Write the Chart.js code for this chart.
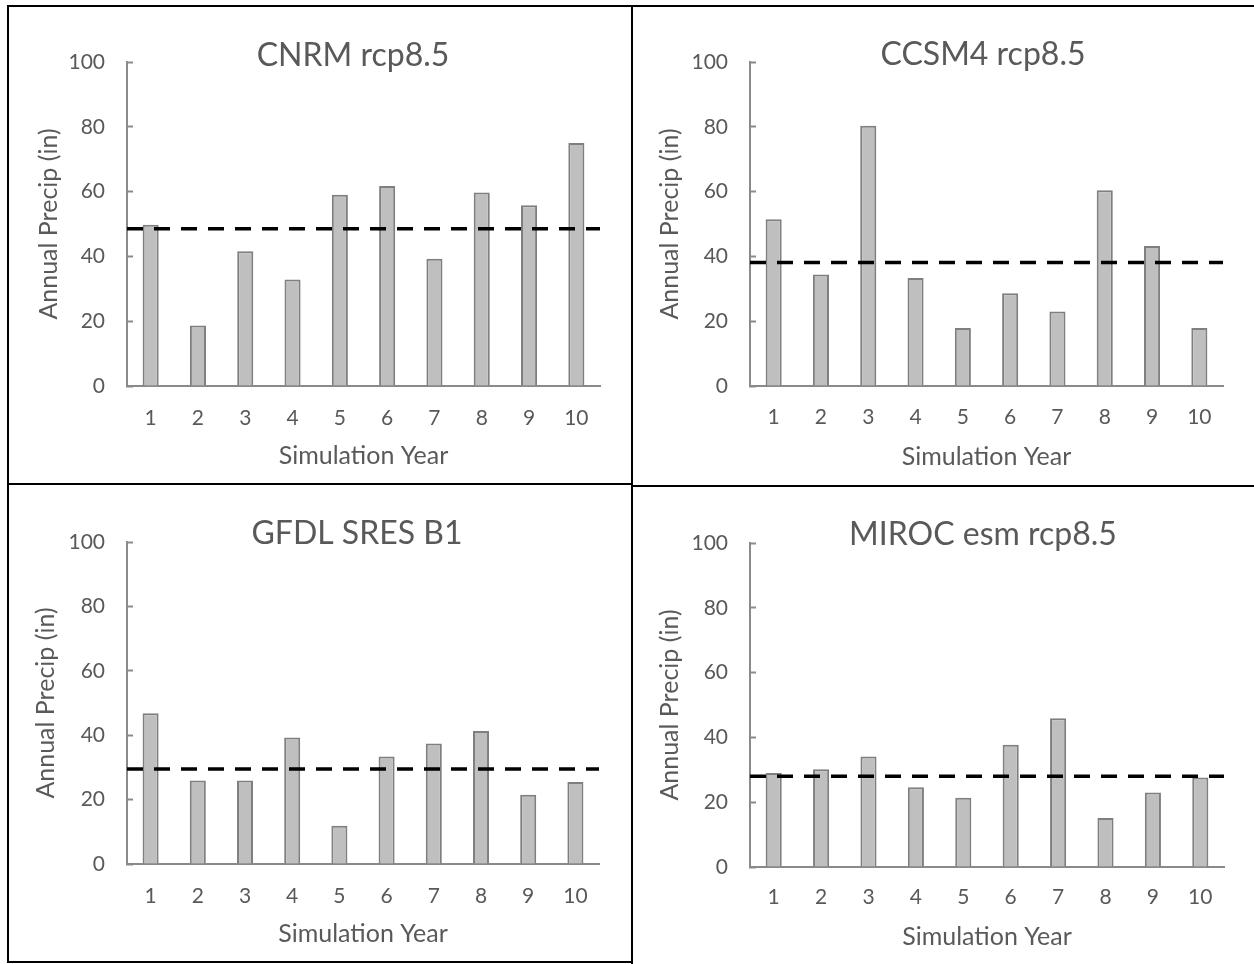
<!DOCTYPE html>
<html>
<head>
<meta charset="utf-8">
<title>Annual Precipitation by Simulation Year</title>
<script src="https://cdn.jsdelivr.net/npm/chart.js@4/dist/chart.umd.min.js"></script>
<style>
  html, body { margin: 0; padding: 0; background: #fff; }
  #page { position: relative; width: 1254px; height: 964px; overflow: hidden; background: #fff; }
  #page canvas { position: absolute; }
  .rule { position: absolute; background: #000; z-index: 2; }
</style>
</head>
<body>
<div id="page">
  <canvas id="panel0"></canvas>
  <canvas id="panel1"></canvas>
  <canvas id="panel2"></canvas>
  <canvas id="panel3"></canvas>
  <!-- frame lines around the four panels -->
  <div class="rule" style="left:7px;top:5px;width:1247px;height:2px"></div>
  <div class="rule" style="left:7px;top:5px;width:2px;height:958px"></div>
  <div class="rule" style="left:631px;top:5px;width:2px;height:959px"></div>
  <div class="rule" style="left:7px;top:483px;width:626px;height:2px"></div>
  <div class="rule" style="left:631px;top:485px;width:623px;height:2px"></div>
  <div class="rule" style="left:7px;top:961px;width:626px;height:2px"></div>
</div>
<script>
// ---- data ----
const years = ['1', '2', '3', '4', '5', '6', '7', '8', '9', '10'];
const cnrmPrecip  = [49.8, 18.7, 41.6, 32.9, 59.0, 61.7, 39.3, 59.7, 55.8, 75.0];
const ccsm4Precip = [51.5, 34.4, 80.3, 33.3, 17.9, 28.6, 23.0, 60.4, 43.2, 17.9];
const gfdlPrecip  = [46.8, 25.9, 25.9, 39.3, 11.9, 33.4, 37.4, 41.3, 21.5, 25.5];
const mirocPrecip = [29.0, 30.2, 34.1, 24.6, 21.4, 37.7, 45.9, 15.1, 23.0, 27.6];
const meanPrecip  = [48.5, 38.1, 29.5, 28.0];
const panelTitles = ['CNRM rcp8.5', 'CCSM4 rcp8.5', 'GFDL SRES B1', 'MIROC esm rcp8.5'];
const yAxisTitle = 'Annual Precip (in)';
const xAxisTitle = 'Simulation Year';
const yMin = 0, yMax = 100, yStep = 20;

// ---- styling ----
const FONT = 'Lato';
const TEXT = '#595959';
const AXIS = '#8a8a8a';
const BAR_FILL = '#bfbfbf';
const BAR_EDGE = '#7f7f7f';
const TICK_SIZE = 21;
const AXIS_TITLE_SIZE = 25;
const TITLE_SIZE = 32;

// page placement of each panel (canvas box, plot box, text anchors)
const panelLayout = [
  { canvas: {x: 9,   y: 7,   w: 622, h: 476}, plot: {l: 127, r: 600,  t: 62,  b: 386},
    yTitleX: 49,  tickY: 418, xTitleY: 456, title: {x: 353, y: 66} },
  { canvas: {x: 633, y: 7,   w: 621, h: 478}, plot: {l: 750, r: 1223, t: 62,  b: 386},
    yTitleX: 670, tickY: 417, xTitleY: 457, title: {x: 983, y: 65} },
  { canvas: {x: 9,   y: 485, w: 622, h: 476}, plot: {l: 127, r: 599,  t: 542, b: 864},
    yTitleX: 46,  tickY: 896, xTitleY: 934, title: {x: 357, y: 544} },
  { canvas: {x: 633, y: 487, w: 621, h: 477}, plot: {l: 750, r: 1224, t: 543, b: 867},
    yTitleX: 670, tickY: 897, xTitleY: 937, title: {x: 983, y: 545} }
];
const panelSeries = [cnrmPrecip, ccsm4Precip, gfdlPrecip, mirocPrecip];

// draws the panel heading inside the canvas
const panelTitlePlugin = {
  id: 'panelTitle',
  afterDraw(chart, args, opts) {
    const ctx = chart.ctx;
    ctx.save();
    ctx.font = `${opts.size}px ${FONT}`;
    ctx.fillStyle = opts.color;
    ctx.textAlign = 'center';
    ctx.textBaseline = 'alphabetic';
    ctx.fillText(opts.text, opts.x, opts.y);
    ctx.restore();
  }
};

Chart.defaults.font.family = FONT;
Chart.defaults.color = TEXT;

function buildPanel(i) {
  const L = panelLayout[i];
  const cv = document.getElementById('panel' + i);
  cv.width = L.canvas.w; cv.height = L.canvas.h;
  cv.style.left = L.canvas.x + 'px'; cv.style.top = L.canvas.y + 'px';
  cv.style.width = L.canvas.w + 'px'; cv.style.height = L.canvas.h + 'px';

  const titleLH = AXIS_TITLE_SIZE * 1.2;
  const tickLH = TICK_SIZE * 1.2;
  const yBoxLeft = L.yTitleX - 4 - titleLH / 2;
  const yWidth = L.plot.l - yBoxLeft;
  const xBoxBottom = L.xTitleY + titleLH / 2 + 4;
  const xHeight = xBoxBottom - L.plot.b;
  const pad = {
    left: yBoxLeft - L.canvas.x,
    top: L.plot.t - L.canvas.y,
    right: (L.canvas.x + L.canvas.w) - L.plot.r,
    bottom: (L.canvas.y + L.canvas.h) - xBoxBottom
  };
  const xTickPad = L.tickY - L.plot.b - tickLH / 2;

  return new Chart(cv, {
    type: 'bar',
    data: {
      labels: years,
      datasets: [
        {
          type: 'line',
          label: 'Mean',
          data: [{x: 0, y: meanPrecip[i]}, {x: 1, y: meanPrecip[i]}],
          xAxisID: 'xMean',
          borderColor: '#000',
          borderWidth: 3.5,
          borderDash: [16, 11],
          pointRadius: 0,
          fill: false,
          order: 0
        },
        {
          label: panelTitles[i],
          data: panelSeries[i],
          backgroundColor: BAR_FILL,
          borderColor: BAR_EDGE,
          borderWidth: 2,
          grouped: false,
          barPercentage: 0.34,
          categoryPercentage: 1.0,
          order: 1
        }
      ]
    },
    options: {
      responsive: false,
      devicePixelRatio: 1,
      animation: false,
      layout: { padding: pad },
      plugins: {
        legend: { display: false },
        tooltip: { enabled: false },
        panelTitle: {
          text: panelTitles[i],
          x: L.title.x - L.canvas.x,
          y: L.title.y - L.canvas.y,
          size: TITLE_SIZE,
          color: TEXT
        }
      },
      scales: {
        x: {
          type: 'category',
          offset: true,
          grid: { display: false, drawTicks: false },
          border: { display: true, color: AXIS, width: 2 },
          ticks: { color: TEXT, font: { size: TICK_SIZE }, padding: xTickPad, maxRotation: 0, autoSkip: false },
          title: { display: true, text: xAxisTitle, color: TEXT, font: { size: AXIS_TITLE_SIZE }, padding: { top: 4, bottom: 4 } },
          afterFit(s) { s.height = xHeight; }
        },
        xMean: { type: 'linear', min: 0, max: 1, offset: false, display: false },
        y: {
          min: yMin, max: yMax,
          ticks: { stepSize: yStep, color: TEXT, font: { size: TICK_SIZE }, padding: 28 },
          grid: { display: true, drawOnChartArea: false, drawTicks: true, tickLength: -6, tickWidth: 2, tickColor: AXIS },
          border: { display: true, color: AXIS, width: 2 },
          title: { display: true, text: yAxisTitle, color: TEXT, font: { size: AXIS_TITLE_SIZE }, padding: { top: 4, bottom: 4 } },
          afterFit(s) { s.width = yWidth; }
        }
      }
    },
    plugins: [panelTitlePlugin]
  });
}

for (let i = 0; i < 4; i++) buildPanel(i);
</script>
</body>
</html>
